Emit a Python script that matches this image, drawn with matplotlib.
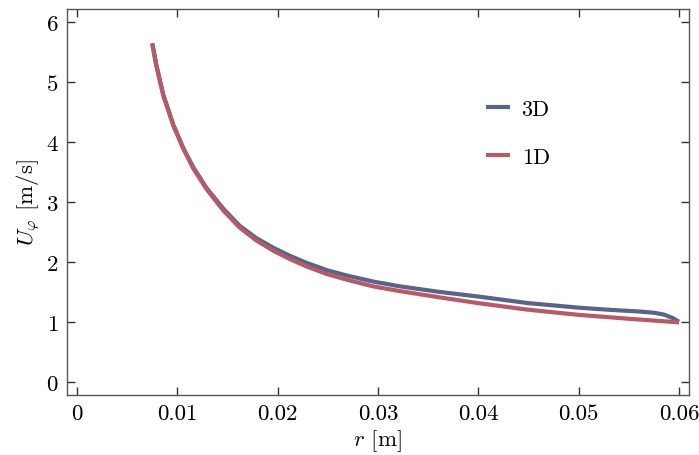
import matplotlib
matplotlib.use("Agg")
import matplotlib.pyplot as plt

plt.rcParams['font.family'] = 'serif'
plt.rcParams['font.serif'] = ['cmr10']
plt.rcParams['mathtext.fontset'] = 'cm'
plt.rcParams['axes.formatter.use_mathtext'] = True

r_1d = [0.0075, 0.0079, 0.0086, 0.0096, 0.0106, 0.0116, 0.0129, 0.0146, 0.0162,
        0.0179, 0.0196, 0.0212, 0.0229, 0.0249, 0.0269, 0.0295, 0.0322, 0.0360,
        0.0400, 0.0450, 0.0500, 0.0550, 0.0600]
u_1d = [5.64, 5.28, 4.78, 4.28, 3.89, 3.56, 3.22, 2.86, 2.58,
        2.36, 2.19, 2.055, 1.93, 1.805, 1.71, 1.60, 1.52, 1.42,
        1.32, 1.21, 1.125, 1.06, 1.00]

r_3d = [0.0075, 0.0079, 0.0086, 0.0096, 0.0106, 0.0116, 0.0129, 0.0146, 0.0162,
        0.0179, 0.0196, 0.0212, 0.0229, 0.0249, 0.0269, 0.0295, 0.0322, 0.0360,
        0.0400, 0.0450, 0.0500, 0.0530, 0.0561, 0.0575, 0.0585, 0.0594, 0.0600]
u_3d = [5.65, 5.29, 4.79, 4.29, 3.90, 3.58, 3.24, 2.89, 2.61,
        2.40, 2.24, 2.11, 1.99, 1.87, 1.78, 1.68, 1.60, 1.51,
        1.43, 1.32, 1.245, 1.21, 1.18, 1.16, 1.13, 1.07, 1.01]

xticks = [0, 0.01, 0.02, 0.03, 0.04, 0.05, 0.06]
xticklabels = ['0', '0.01', '0.02', '0.03', '0.04', '0.05', '0.06']
yticks = [0, 1, 2, 3, 4, 5, 6]

c3d = '#5a6388'
c1d = '#b75a68'

fig = plt.figure(figsize=(6.99, 4.56), dpi=100)
ax = fig.add_axes([67/699, 1-396/456, (689-67)/699, (396-10)/456])

ax.plot(r_3d, u_3d, color=c3d, lw=3, label='3D', solid_capstyle='butt',
        solid_joinstyle='round')
ax.plot(r_1d, u_1d, color=c1d, lw=3, label='1D', solid_capstyle='butt',
        solid_joinstyle='round')

ax.set_xlim(-0.001, 0.061)
ax.set_ylim(-0.21, 6.22)
ax.set_xticks(xticks)
ax.set_xticklabels(xticklabels)
ax.set_yticks(yticks)
ax.tick_params(direction='in', top=True, right=True, length=6, width=1,
               labelsize=16.5, color='#333333', pad=6)
for s in ax.spines.values():
    s.set_color('#555555')
    s.set_linewidth(1)

ax.set_xlabel(r'$r$ [m]', fontsize=16.5, labelpad=3)
ax.set_ylabel(r'$U_\varphi$ [m/s]', fontsize=16.5, labelpad=2)

leg = ax.legend(loc='upper left', bbox_to_anchor=(486/699, 1-100/456),
                bbox_transform=fig.transFigure, frameon=False, fontsize=16,
                handlelength=1.1, handletextpad=0.5, labelspacing=1.3,
                borderpad=0, borderaxespad=0)

fig.savefig('out.png', dpi=100)
